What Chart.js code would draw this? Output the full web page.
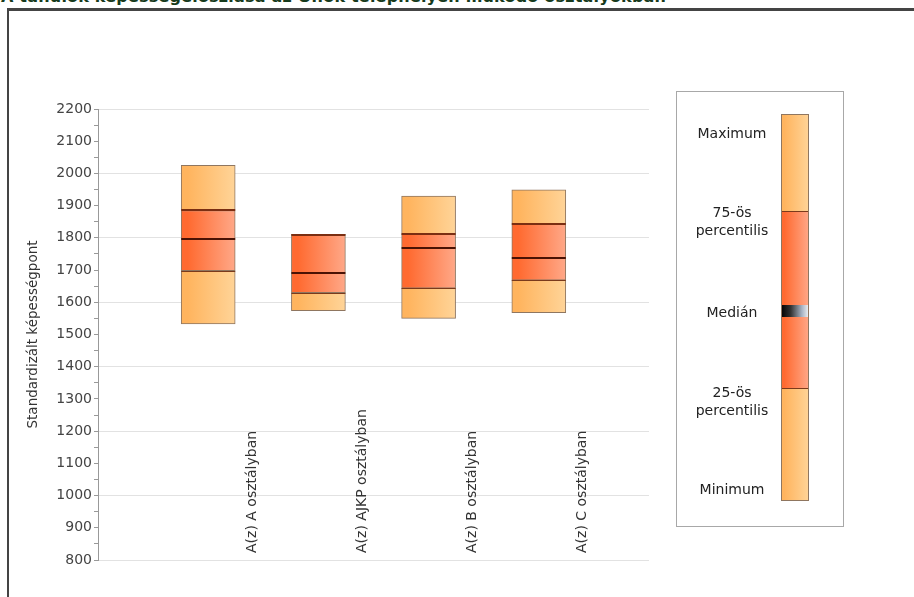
<!DOCTYPE html>
<html>
<head>
<meta charset="utf-8">
<script src="https://cdn.jsdelivr.net/npm/chart.js@4/dist/chart.umd.min.js"></script>
<style>
  html, body { margin: 0; padding: 0; background: #fff; overflow: hidden; }
  #wrap { position: relative; width: 914px; height: 597px; overflow: hidden; }
  #frame { position: absolute; left: 7px; top: 8px; width: 1000px; height: 1000px;
           border-left: 2px solid #444; border-top: 3px solid #444; }
  #title { position: absolute; left: 1px; top: -11px; white-space: nowrap;
           font: bold 16px "DejaVu Sans", sans-serif; line-height: 16px; color: #163a1c; letter-spacing: 0.2px; }
  canvas { position: absolute; left: 0; top: 0; }
</style>
</head>
<body>
<div id="wrap">
  <div id="title">A tanulók képességeloszlása az Önök telephelyén működő osztályokban</div>
  <div id="frame"></div>
  <canvas id="c" width="914" height="597"></canvas>
</div>
<script>
const categories = ['A(z) A osztályban', 'A(z) AJKP osztályban', 'A(z) B osztályban', 'A(z) C osztályban'];
const minimum = [1533, 1574, 1550, 1568];
const q1      = [1698, 1630, 1644, 1669];
const median  = [1796, 1690, 1768, 1737];
const q3      = [1885, 1810, 1811, 1843];
const maximum = [2025, 1811, 1930, 1949];
const yMin = 800, yMax = 2200, yMinorStep = 50, yLabelStep = 100, yGridStep = 200;
const yTitle = 'Standardizált képességpont';
const legendLabels = [['Maximum'], ['75-ös', 'percentilis'], ['Medián'], ['25-ös', 'percentilis'], ['Minimum']];

const xLabels = [''].concat(categories, ['']);
const FONT = '"DejaVu Sans", sans-serif';
const BAR_W = 54;

function grad(c0, c1) {
  return (ctx) => {
    const chart = ctx.chart;
    if (!chart.chartArea || ctx.dataIndex == null || !chart.scales.x) return c0;
    const x = chart.scales.x.getPixelForValue(ctx.dataIndex);
    const g = chart.ctx.createLinearGradient(x - BAR_W / 2, 0, x + BAR_W / 2, 0);
    g.addColorStop(0, c0);
    g.addColorStop(0.12, c0);
    g.addColorStop(1, c1);
    return g;
  };
}
const LIGHT0 = '#ffb45e', LIGHT1 = '#ffd498';
const DARK0 = '#ff6a30', DARK1 = '#ffa888';

function seg(a, b) {
  return [null].concat(categories.map((c, i) => [a[i], b[i]]), [null]);
}

const common = { barThickness: BAR_W, borderWidth: 1, borderSkipped: false, borderColor: '#8f7660' };

const boxLines = {
  id: 'boxLines',
  afterDatasetsDraw(chart) {
    const ctx = chart.ctx, xs = chart.scales.x, ys = chart.scales.y;
    ctx.save();
    categories.forEach((c, i) => {
      const x = xs.getPixelForValue(i + 1);
      const l = x - BAR_W / 2, r = x + BAR_W / 2;
      const line = (v, w, col) => {
        const y = Math.round(ys.getPixelForValue(v)) + (w % 2 ? 0.5 : 0);
        ctx.strokeStyle = col; ctx.lineWidth = w;
        ctx.beginPath(); ctx.moveTo(l, y); ctx.lineTo(r, y); ctx.stroke();
      };
      line(q1[i], 1, '#7a3a1c');
      line(q3[i], 2, '#7a2e12');
      line(median[i], 2, '#4a1204');
    });
    ctx.restore();
  }
};

const catLabels = {
  id: 'catLabels',
  afterDraw(chart) {
    const ctx = chart.ctx, xs = chart.scales.x, ys = chart.scales.y;
    ctx.save();
    ctx.font = '14px ' + FONT;
    ctx.fillStyle = '#333';
    ctx.textAlign = 'left';
    ctx.textBaseline = 'middle';
    const yStart = ys.getPixelForValue(yMin) - 7;
    categories.forEach((c, i) => {
      const x = xs.getPixelForValue(i + 1) + 44;
      ctx.save();
      ctx.translate(x, yStart);
      ctx.rotate(-Math.PI / 2);
      ctx.fillText(c, 0, 0);
      ctx.restore();
    });
    ctx.restore();
  }
};

const legendBox = {
  id: 'legendBox',
  afterDraw(chart) {
    const ctx = chart.ctx;
    ctx.save();
    ctx.strokeStyle = '#a8a8a8'; ctx.lineWidth = 1;
    ctx.strokeRect(676.5, 91.5, 167, 435);
    const bl = 781, br = 809, top = 114, p75 = 211, med = 311, p25 = 388, bot = 501;
    const lg = ctx.createLinearGradient(bl, 0, br, 0);
    lg.addColorStop(0, LIGHT0); lg.addColorStop(0.12, LIGHT0); lg.addColorStop(1, LIGHT1);
    const dg = ctx.createLinearGradient(bl, 0, br, 0);
    dg.addColorStop(0, DARK0); dg.addColorStop(0.12, DARK0); dg.addColorStop(1, DARK1);
    ctx.fillStyle = lg; ctx.fillRect(bl, top, br - bl, p75 - top);
    ctx.fillStyle = dg; ctx.fillRect(bl, p75, br - bl, p25 - p75);
    ctx.fillStyle = lg; ctx.fillRect(bl, p25, br - bl, bot - p25);
    const mg = ctx.createLinearGradient(bl, 0, br, 0);
    mg.addColorStop(0, '#000'); mg.addColorStop(0.35, '#333'); mg.addColorStop(0.75, '#a8b4c4'); mg.addColorStop(1, '#f4f4f4');
    ctx.fillStyle = mg; ctx.fillRect(bl, med - 6, br - bl, 12);
    ctx.strokeStyle = '#7a3a1c';
    ctx.beginPath(); ctx.moveTo(bl, p75 + 0.5); ctx.lineTo(br, p75 + 0.5);
    ctx.moveTo(bl, p25 + 0.5); ctx.lineTo(br, p25 + 0.5); ctx.stroke();
    ctx.strokeStyle = '#8f7660';
    ctx.strokeRect(bl + 0.5, top + 0.5, br - bl - 1, bot - top - 1);
    ctx.fillStyle = '#222';
    ctx.font = '14px ' + FONT;
    ctx.textAlign = 'center'; ctx.textBaseline = 'middle';
    const ys = [[134], [213, 231], [313], [393, 411], [490]];
    legendLabels.forEach((lines, k) => {
      lines.forEach((t, j) => ctx.fillText(t, 732, ys[k][j]));
    });
    ctx.restore();
  }
};

new Chart(document.getElementById('c'), {
  type: 'bar',
  data: {
    labels: xLabels,
    datasets: [
      Object.assign({ data: seg(minimum, q1), backgroundColor: grad(LIGHT0, LIGHT1) }, common),
      Object.assign({ data: seg(q1, q3), backgroundColor: grad(DARK0, DARK1) }, common),
      Object.assign({ data: seg(q3, maximum), backgroundColor: grad(LIGHT0, LIGHT1) }, common)
    ]
  },
  options: {
    responsive: false,
    animation: false,
    devicePixelRatio: 1,
    layout: { padding: { left: 20, top: 109, right: 265, bottom: 37 } },
    plugins: { legend: { display: false }, tooltip: { enabled: false } },
    scales: {
      x: { display: false, stacked: true, offset: false },
      y: {
        min: yMin, max: yMax,
        afterFit(s) { s.width = 78; },
        title: { display: true, text: yTitle, color: '#333', font: { family: FONT, size: 13.5 }, padding: { top: 5, bottom: 0 } },
        ticks: {
          stepSize: yMinorStep, autoSkip: false, padding: 2, color: '#444',
          font: { family: FONT, size: 14 },
          callback: (v) => (v % yLabelStep === 0 ? String(v) : '')
        },
        border: { display: true, color: '#999' },
        grid: {
          tickLength: 4, tickColor: '#999',
          color: (c) => (c.tick && c.tick.value % yGridStep === 0 ? '#e2e2e2' : 'rgba(0,0,0,0)')
        }
      }
    }
  },
  plugins: [boxLines, catLabels, legendBox]
});
</script>
</body>
</html>
